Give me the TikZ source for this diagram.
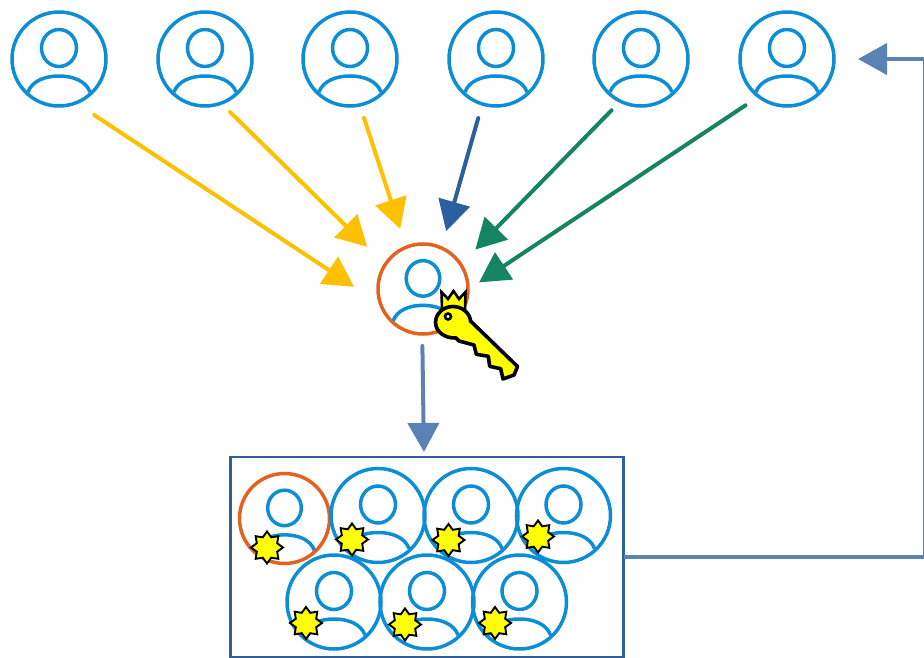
\documentclass[tikz,border=0pt]{standalone}
\usepackage{xcolor}
\usepackage{tikz}
\usetikzlibrary{arrows.meta, positioning, shapes.geometric, calc}

\definecolor{userblue}{HTML}{0B8ED6}
\definecolor{leadorange}{HTML}{E2621F}
\definecolor{voteyellow}{HTML}{FFC000}
\definecolor{votenavy}{HTML}{2B5F9E}
\definecolor{votegreen}{HTML}{158463}
\definecolor{steelblue}{HTML}{5B82B4}
\definecolor{boxblue}{HTML}{2F6196}
\definecolor{keyyellow}{RGB}{255,255,0}

\tikzset{
	usernode/.style={circle, draw=userblue, line width=3.5pt, minimum size=94pt, inner sep=0pt, outer sep=0pt},
	leadnode/.style={circle, draw=leadorange, line width=3.5pt, minimum size=90pt, inner sep=0pt, outer sep=0pt},
	badge/.style={star, star points=8, star point ratio=1.45, draw=black, fill=keyyellow, line width=1.9pt, minimum size=32pt, inner sep=0pt},
	vote/.style={line width=4pt, line cap=round, -{Triangle[length=30pt,width=32pt]}},
	flow/.style={steelblue, line width=4pt, line cap=round, -{Triangle[length=29pt,width=31pt]}},
	pics/usericon/.style={code={
		\draw [userblue, line width=3.5pt] (0,-11) ellipse [x radius=17.5, y radius=18.5];
		\draw [userblue, line width=3.5pt] (-31,33) .. controls (-27,22) and (-14,17) .. (0,17) .. controls (14,17) and (27,22) .. (31,33);
	}}
}

\begin{document}
\begin{tikzpicture}[x=1pt, y=-1pt]
	\useasboundingbox (0,0) rectangle (924,658);
	
	%//top row
	\foreach \x [count=\i from 0] in {59,205,350,496,641,787}
	{
		\node [usernode] (u\i) at (\x,59) {};
		\pic at (\x,59) {usericon};
	}
	
	%//the one with the key
	\node [leadnode] (lead) at (423,289) {};
	\pic [scale=0.96] at (423,289) {usericon};
	
	%//arrows into it
	\foreach \s/\a/\sa/\b/\sb/\c in {u0/-69/22/200.4/32/voteyellow, u1/-70/12.6/147.5/25.3/voteyellow, u2/-78/13.7/112.2/19.3/voteyellow, u3/-107.3/14.7/66.2/17.5/votenavy, u4/-116.8/12.6/33.9/20.9/votegreen, u5/-127.7/15.9/-1.8/13.3/votegreen}
	\draw [vote, \c, shorten <=\sa pt, shorten >=\sb pt] (\s.\a) -- (lead.\b);
	
	%//key
	\draw [black, fill=keyyellow, line width=2.6pt, line join=miter] (442,309) -- (441.5,292) -- (448,299) -- (453.5,291) -- (459,299) -- (465.5,292) -- (465,311) -- cycle;
	\draw [black, fill=keyyellow, line width=3.6pt, line join=round] (470.5,321) .. controls (470,313) and (462,306.5) .. (453,306.5) .. controls (443,306.5) and (435.5,314) .. (435.5,322.5) .. controls (435.5,331) and (444,338.5) .. (456,338) -- (459,341) -- (474,345) -- (476.3,354.3) -- (488.3,356.3) -- (489.7,366.3) -- (500.7,368.7) -- (503,379) -- (514,375) -- (517.5,366.5) -- cycle;
	\draw [black, fill=white, line width=2.6pt] (448,316.5) circle (3);
	
	%//list of members
	\node [draw=boxblue, line width=2.8pt, minimum width=393pt, minimum height=200pt, inner sep=0pt, outer sep=0pt] (box) at (427,557) {};
	\node [leadnode] (m0) at (284.5,518.5) {};
	\pic [scale=0.96] at (284.5,518.5) {usericon};
	\foreach \x/\y [count=\i] in {378/515.5, 471/515.5, 563.5/515.5, 334/602, 427/602, 519.5/602}
	{
		\node [usernode] (m\i) at (\x,\y) {};
		\pic at (\x,\y) {usericon};
	}
	\foreach \x/\y [count=\i from 0] in {267/547.5, 352/539.5, 448.5/540, 538/536.5, 306/623, 405/624.5, 495/623}
	\node [badge] (b\i) at (\x,\y) {};
	
	%//down and back round
	\draw [flow, shorten <=12pt, shorten >=5pt] (lead.-91) -- ([xshift=-3pt]box.north);
	\coordinate (turn) at (925.3,59);
	\draw [flow, line cap=butt, shorten >=24pt] (box.east) -| (turn) -- (u5.east);
\end{tikzpicture}
\end{document}
